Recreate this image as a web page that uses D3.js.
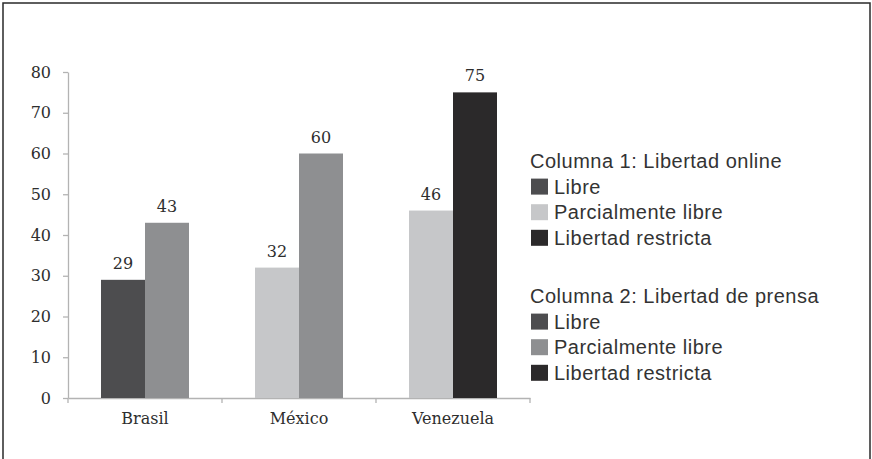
<!DOCTYPE html>
<html lang="es">
<head>
    <meta charset="UTF-8">
    <script src="https://d3js.org/d3.v7.min.js"></script>
    <title>Libertad online y de prensa</title>
    <style>
        body { margin: 0; background: #fff; }
        svg { display: block; }
    </style>
</head>
<body>
    <svg id="chart"></svg>
    <script>
        const width = 872;
        const height = 459;
        const margin = {top: 72, bottom: 61, left: 68, right: 342};

        // datos
        const countries = ["Brasil", "México", "Venezuela"];
        const online = [29, 32, 46];
        const press = [43, 60, 75];
        const onlineStatus = ["Libre", "Parcialmente libre", "Parcialmente libre"];
        const pressStatus = ["Parcialmente libre", "Parcialmente libre", "Libertad restricta"];
        const yTicks = [0, 10, 20, 30, 40, 50, 60, 70, 80];
        const statuses = ["Libre", "Parcialmente libre", "Libertad restricta"];
        const legendTitles = ["Columna 1: Libertad online", "Columna 2: Libertad de prensa"];

        const onlineColor = d3.scaleOrdinal().domain(statuses).range(["#4d4d4f", "#c6c7c9", "#2b292a"]);
        const pressColor = d3.scaleOrdinal().domain(statuses).range(["#4d4d4f", "#8e8f91", "#2b292a"]);

        const svg = d3.select("#chart").attr("width", width).attr("height", height);

        // marco
        svg.append("rect")
            .attr("x", 3).attr("y", 3)
            .attr("width", 867).attr("height", 470)
            .attr("fill", "none").attr("stroke", "#2a2a2a").attr("stroke-width", 1.5);

        const x = d3.scaleBand()
            .domain(countries)
            .range([margin.left, width - margin.right])
            .paddingInner(0).paddingOuter(0);
        const sub = d3.scaleBand()
            .domain(["online", "press"])
            .range([0, x.bandwidth()])
            .paddingInner(0).paddingOuter(0.75);
        const y = d3.scaleLinear()
            .domain([0, 80])
            .range([height - margin.bottom, margin.top]);

        // ejes
        svg.append("g")
            .attr("transform", `translate(${margin.left},0)`)
            .call(d3.axisLeft(y).tickValues(yTicks).tickSize(5).tickSizeOuter(0).tickPadding(12));
        const xAxis = svg.append("g")
            .attr("transform", `translate(0,${y(0)})`)
            .call(d3.axisBottom(x).tickSize(0).tickPadding(15));

        // marcas entre categorías
        const bounds = [margin.left].concat(countries.map(c => x(c) + x.bandwidth()));
        xAxis.selectAll(".sep").data(bounds).join("line")
            .attr("class", "sep")
            .attr("x1", d => d).attr("x2", d => d)
            .attr("y1", 0).attr("y2", 5);

        svg.selectAll(".domain, .tick line, .sep")
            .attr("stroke", "#b3b3b3").attr("stroke-width", 1.3);
        svg.selectAll(".tick text")
            .attr("font-family", "DejaVu Serif").attr("font-size", 16).attr("fill", "#2e2e2e");

        // barras
        const bars = countries.flatMap((c, i) => [
            {country: c, key: "online", value: online[i], color: onlineColor(onlineStatus[i])},
            {country: c, key: "press", value: press[i], color: pressColor(pressStatus[i])}
        ]);

        svg.append("g").selectAll("rect").data(bars).join("rect")
            .attr("x", d => x(d.country) + sub(d.key))
            .attr("y", d => y(d.value))
            .attr("width", sub.bandwidth())
            .attr("height", d => y(0) - y(d.value))
            .attr("fill", d => d.color);

        svg.append("g").selectAll("text").data(bars).join("text")
            .attr("x", d => x(d.country) + sub(d.key) + sub.bandwidth() / 2)
            .attr("y", d => y(d.value) - 11)
            .attr("text-anchor", "middle")
            .attr("font-family", "DejaVu Serif").attr("font-size", 16).attr("fill", "#2e2e2e")
            .text(d => d.value);

        // leyenda
        const legend = svg.append("g")
            .attr("font-family", "Liberation Sans").attr("font-size", 20)
            .attr("letter-spacing", 0.5).attr("fill", "#333");
        const rowH = 25.6;
        legendTitles.forEach((t, gi) => {
            const top = 161 + gi * 135;
            const colors = gi === 0 ? onlineColor : pressColor;
            legend.append("text")
                .attr("x", 530).attr("y", top).attr("dy", "0.35em")
                .text(t);
            statuses.forEach((s, si) => {
                const cy = top + (si + 1) * rowH;
                legend.append("rect")
                    .attr("x", 531).attr("y", cy - 8)
                    .attr("width", 17).attr("height", 16)
                    .attr("fill", colors(s));
                legend.append("text")
                    .attr("x", 554).attr("y", cy).attr("dy", "0.35em")
                    .text(s);
            });
        });
    </script>
</body>
</html>
